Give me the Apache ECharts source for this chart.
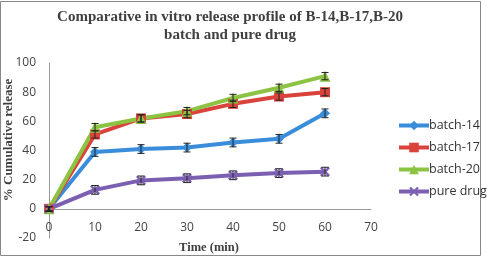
<!DOCTYPE html>
<html>
<head>
<meta charset="utf-8">
<script src="https://cdn.jsdelivr.net/npm/echarts@6/dist/echarts.min.js"></script>
<style>
  html, body { margin: 0; padding: 0; background: #fff; }
  #chart { width: 489px; height: 260px; }
</style>
</head>
<body>
<div id="chart"></div>
<script>
// time points (min)
var times = [0, 10, 20, 30, 40, 50, 60];

// % cumulative release
var batch14 = [0, 39, 41, 42, 45.5, 48, 65.5];
var batch17 = [0, 51, 62, 65, 72, 77, 80];
var batch20 = [0, 56, 62, 67, 76, 83, 91];
var pureDrug = [0, 13, 19.5, 21, 23, 24.5, 25.5];

// error bar half-widths
var err14 = [1.5, 3, 3, 3, 3, 3, 3];
var err17 = [1.5, 2.5, 2.5, 2.5, 2.5, 2.5, 2.5];
var err20 = [1.5, 2.5, 2.5, 2.5, 2.5, 2.5, 2.5];
var errPure = [1.5, 3, 3, 3, 3, 3, 3];

var names = ['batch-14', 'batch-17', 'batch-20', 'pure drug'];
var colors = ['#3a8ddb', '#d9433b', '#8dc343', '#7b5fb1'];

var xPath = 'path://M0,0 L4,4 L8,0 L10,2 L6,6 L10,10 L8,12 L4,8 L0,12 L-2,10 L2,6 L-2,2 Z';
var symbols = ['diamond', 'rect', 'triangle', xPath];
var symbolSizes = [10, 10, 11, 10];

var chart = echarts.init(document.getElementById('chart'));

function pairs(vals) {
  return times.map(function (t, i) { return [t, vals[i]]; });
}

function errData(vals, errs) {
  return times.map(function (t, i) { return [t, vals[i], errs[i]]; });
}

// draws vertical error bars with caps
function errorBar(params, api) {
  var x = api.value(0), y = api.value(1), e = api.value(2);
  var hi = api.coord([x, y + e]);
  var lo = api.coord([x, y - e]);
  var w = 3.5;
  var st = { stroke: '#222', lineWidth: 1 };
  return {
    type: 'group',
    children: [
      { type: 'line', shape: { x1: hi[0], y1: hi[1], x2: lo[0], y2: lo[1] }, style: st },
      { type: 'line', shape: { x1: hi[0] - w, y1: hi[1], x2: hi[0] + w, y2: hi[1] }, style: st },
      { type: 'line', shape: { x1: lo[0] - w, y1: lo[1], x2: lo[0] + w, y2: lo[1] }, style: st }
    ]
  };
}

var allVals = [batch14, batch17, batch20, pureDrug];
var allErr = [err14, err17, err20, errPure];

var series = [];
allVals.forEach(function (vals, i) {
  series.push({
    name: names[i],
    type: 'line',
    data: pairs(vals),
    symbol: symbols[i],
    symbolSize: symbolSizes[i],
    showAllSymbol: true,
    lineStyle: { width: 4, color: colors[i] },
    itemStyle: { color: colors[i] },
    z: 3
  });
});
allVals.forEach(function (vals, i) {
  series.push({
    type: 'custom',
    renderItem: errorBar,
    data: errData(vals, allErr[i]),
    encode: { x: 0, y: 1 },
    silent: true,
    z: 4
  });
});

var axisNameFont = { fontFamily: 'Liberation Serif', fontWeight: 'bold', fill: '#404040' };

var option = {
  animation: false,
  title: {
    text: 'Comparative in vitro release profile of B-14,B-17,B-20\nbatch and pure drug',
    left: 225,
    textAlign: 'center',
    top: 3,
    textStyle: {
      fontFamily: 'Liberation Serif',
      fontWeight: 'bold',
      fontSize: 15,
      lineHeight: 18,
      color: '#404040'
    }
  },
  graphic: [{
    type: 'rect',
    shape: { x: 0.5, y: 1.5, width: 480, height: 254 },
    style: { fill: 'none', stroke: '#888', lineWidth: 1 },
    silent: true
  }, {
    // x axis title
    type: 'text',
    x: 209,
    y: 248,
    style: Object.assign({ text: 'Time (min)', fontSize: 12.5, align: 'center', verticalAlign: 'middle' }, axisNameFont)
  }, {
    // y axis title
    type: 'text',
    x: 9,
    y: 140,
    rotation: Math.PI / 2,
    style: Object.assign({ text: '% Cumulative release', fontSize: 13, align: 'center', verticalAlign: 'middle' }, axisNameFont)
  }],
  legend: {
    data: names,
    orient: 'vertical',
    left: 392,
    top: 114,
    itemGap: 9,
    itemWidth: 30,
    itemHeight: 12,
    lineStyle: { width: 4 },
    textStyle: { fontFamily: 'Open Sans', fontSize: 12.5, color: '#333', padding: [0, 0, 0, -5] }
  },
  grid: { left: 49, right: 118, top: 63, bottom: 22, outerBoundsMode: 'none' },
  xAxis: {
    type: 'value',
    min: 0,
    max: 70,
    interval: 10,
    offset: -29,
    axisLine: { onZero: false, lineStyle: { color: '#999', width: 1 } },
    axisTick: { show: false },
    splitLine: { show: false },
    axisLabel: { fontFamily: 'Open Sans', fontSize: 12, color: '#444', margin: 13 }
  },
  yAxis: {
    type: 'value',
    min: -20,
    max: 100,
    interval: 20,
    axisLine: { show: true, lineStyle: { color: '#999', width: 1 } },
    axisTick: { show: false },
    splitLine: { show: false },
    axisLabel: { fontFamily: 'Open Sans', fontSize: 12, color: '#444', margin: 13 }
  },
  series: series
};

chart.setOption(option);
</script>
</body>
</html>
